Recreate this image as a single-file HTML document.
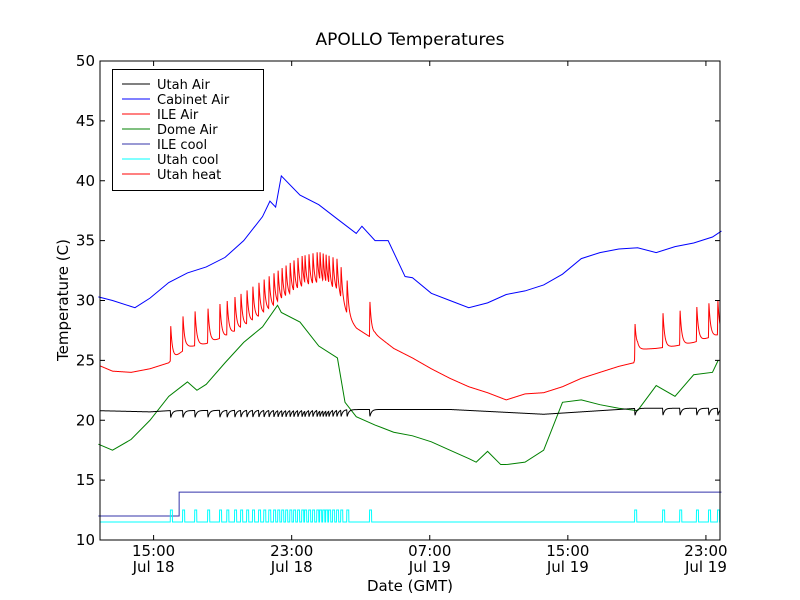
<!DOCTYPE html>
<html><head><meta charset="utf-8"><style>
body{margin:0;background:#fff;}
svg{display:block;font-family:"DejaVu Sans","Liberation Sans",sans-serif;}
</style></head><body>
<svg id="chart" width="800" height="600">
<rect width="800" height="600" fill="#fff"/>
<text x="410" y="45" font-size="17" text-anchor="middle">APOLLO Temperatures</text>
<g id="plot"></g>
<rect x="100" y="61" width="620" height="479" fill="none" stroke="#000" stroke-width="1"/>
<g id="axes"></g>
<text x="410" y="591" font-size="15" text-anchor="middle">Date (GMT)</text>
<text transform="translate(68,300) rotate(-90)" font-size="15" text-anchor="middle">Temperature (C)</text>
<g id="legend"></g>
</svg>
<script>
// ---- data (hours since 00:00 Jul 18 GMT) ----
const yTicks = [10,15,20,25,30,35,40,45,50];
const xTickHours = [15,23,31,39,47];
const xTickLabels = [["15:00","Jul 18"],["23:00","Jul 18"],["07:00","Jul 19"],["15:00","Jul 19"],["23:00","Jul 19"]];
const cabinetHours = [11.8,12.62,13.70,13.92,14.79,15.88,16.96,18.05,19.14,20.22,21.31,21.74,22.07,22.40,23.48,24.57,25.65,26.74,27.07,27.83,28.59,29.57,30.00,31.09,32.17,33.26,34.35,35.43,36.52,37.60,38.69,39.78,40.86,41.95,43.04,44.12,45.21,46.29,47.38,47.9];
const cabinetVals  = [30.3,30.0,29.5,29.4,30.2,31.5,32.3,32.8,33.6,35.0,37.0,38.3,37.8,40.4,38.8,38.0,36.8,35.6,36.2,35.0,35.0,32.0,31.9,30.6,30.0,29.4,29.8,30.5,30.8,31.3,32.2,33.5,34.0,34.3,34.4,34.0,34.5,34.8,35.3,35.8];
const ileAirHours = [11.8,12.62,13.70,14.79,15.88,16.0,16.96,18.05,19.14,20.22,21.31,22.40,23.48,24.57,25.65,26.31,26.74,27.50,27.83,28.91,30.00,31.09,32.17,33.26,34.35,35.43,36.52,37.60,38.69,39.78,40.86,41.95,42.82,43.04,44.12,45.21,46.29,47.38,47.9];
const ileAirVals  = [24.6,24.1,24.0,24.3,24.8,25.0,26.1,26.4,27.0,27.8,28.8,29.8,30.8,31.2,30.6,28.5,27.7,27.0,27.2,26.0,25.2,24.3,23.5,22.8,22.3,21.7,22.2,22.3,22.8,23.5,24.0,24.5,24.8,25.9,26.0,26.2,26.5,27.0,27.2];
const spikeHours = [15.99,16.70,17.40,18.15,18.84,19.26,19.71,20.06,20.41,20.75,21.10,21.40,21.69,21.97,22.21,22.44,22.67,22.91,23.13,23.36,23.60,23.77,24.00,24.23,24.47,24.64,24.82,24.99,25.16,25.39,25.62,25.86,26.21,27.53,42.89,44.51,45.50,46.47,47.17,47.69];
const spikeAmp = 3.0;
const domeHours = [11.8,12.62,13.70,14.79,15.88,16.96,17.51,18.05,19.14,20.22,21.31,22.18,22.40,23.48,24.57,25.65,26.09,26.74,27.83,28.91,30.00,31.09,32.17,33.26,33.69,34.35,35.11,35.43,36.52,37.60,38.69,39.78,40.86,41.95,43.04,44.12,45.21,46.29,47.38,47.71];
const domeVals  = [18.0,17.5,18.4,20.0,22.0,23.2,22.5,23.0,24.8,26.5,27.8,29.6,29.0,28.2,26.2,25.2,21.5,20.3,19.6,19.0,18.7,18.2,17.5,16.8,16.5,17.4,16.3,16.3,16.5,17.5,21.5,21.7,21.3,21.0,20.8,22.9,22.0,23.8,24.0,25.0];
const utahAirHours = [11.8,14.79,15.88,27.53,32.17,37.60,43.04,47.9];
const utahAirVals  = [20.8,20.7,20.8,20.9,20.9,20.5,21.0,21.0];
const utahDip = 0.6;
const ileCoolHours = [11.8,16.48,16.48,47.9];
const ileCoolVals  = [12,12,14,14];
const utahCoolBase = 11.5, utahCoolHigh = 12.5;
const utahHeatVals = [10,10];

// ---- axes ----
const X0=100,X1=720,Y0=540,Y1=61;
const PXH=17.26;
const H0=15-53.6/PXH, H1=H0+620/PXH;
const xs=h=>X0+(h-H0)/(H1-H0)*(X1-X0);
const ys=v=>Y0-(v-10)/40*(Y0-Y1);
const NS="http://www.w3.org/2000/svg";
function mk(tag,attrs,parent){const e=document.createElementNS(NS,tag);for(const k in attrs)e.setAttribute(k,attrs[k]);parent.appendChild(e);return e;}
const plot=document.getElementById('plot'), axes=document.getElementById('axes');
function interp(hs,vs,h){if(h<=hs[0])return vs[0];for(let i=1;i<hs.length;i++){if(h<=hs[i]){const t=(h-hs[i-1])/(hs[i]-hs[i-1]||1);return vs[i-1]+t*(vs[i]-vs[i-1]);}}return vs[vs.length-1];}
function spikeMax(h,tau,rise){let s=0;for(const t of spikeHours){let c=0;if(h>=t-rise&&h<t)c=(h-(t-rise))/rise;else if(h>=t)c=Math.exp(-(h-t)/tau);if(c>s)s=c;}return s;}
function line(pts,color,name){const d=pts.map((p,i)=>(i?'L':'M')+xs(p[0]).toFixed(2)+' '+ys(p[1]).toFixed(2)).join('');const e=mk('path',{d:d,fill:'none',stroke:color,'stroke-width':1},plot);

}
const step=0.01;const grid=[];for(let h=H0;h<=H1;h+=step)grid.push(h);
line(cabinetHours.map((h,i)=>[h,cabinetVals[i]]),'#0000ff','cabinet-air-line');
line(grid.map(h=>[h,interp(ileAirHours,ileAirVals,h)+spikeAmp*spikeMax(h,0.1,0.02)]),'#ff0000','ile-air-line');
line(domeHours.map((h,i)=>[h,domeVals[i]]),'#008000','dome-air-line');
line(grid.map(h=>[h,interp(utahAirHours,utahAirVals,h)-utahDip*spikeMax(h,0.1,0.02)]),'#000000','utah-air-line');
line(ileCoolHours.map((h,i)=>[h,ileCoolVals[i]]),'#3333aa','ile-cool-line');
line(grid.map(h=>{let on=false;for(const t of spikeHours)if(h>=t-0.02&&h<=t+0.1)on=true;return [h,on?utahCoolHigh:utahCoolBase];}),'#00ffff','utah-cool-line');
line([[H0,utahHeatVals[0]],[H1,utahHeatVals[1]]],'#ff0000','utah-heat-line');
// ticks
yTicks.forEach(v=>{const y=ys(v);
mk('line',{x1:X0,x2:X0+5,y1:y,y2:y,stroke:'#000'},axes);mk('line',{x1:X1-5,x2:X1,y1:y,y2:y,stroke:'#000'},axes);
const t=mk('text',{x:95,y:y+5,'font-size':15,'text-anchor':'end'},axes);t.textContent=v;

});
xTickHours.forEach((h,i)=>{const x=xs(h);if(x>X1+1)return;
mk('line',{x1:x,x2:x,y1:Y0,y2:Y0-5,stroke:'#000'},axes);mk('line',{x1:x,x2:x,y1:Y1,y2:Y1+5,stroke:'#000'},axes);
const t=mk('text',{x:x,y:556,'font-size':15,'text-anchor':'middle'},axes);


mk('tspan',{x:x,dy:0},t).textContent=xTickLabels[i][0];mk('tspan',{x:x,dy:16},t).textContent=xTickLabels[i][1];});
// legend
const leg=document.getElementById('legend');
mk('rect',{x:112.5,y:69.5,width:151,height:121,fill:'#fff',stroke:'#000'},leg);
const names=['Utah Air','Cabinet Air','ILE Air','Dome Air','ILE cool','Utah cool','Utah heat'];
const cols=['#000000','#0000ff','#ff0000','#008000','#3333aa','#00ffff','#ff0000'];
names.forEach((n,i)=>{const y=84+i*15;const g=mk('g',{},leg);


mk('line',{x1:122,x2:150,y1:y,y2:y,stroke:cols[i]},g);const t=mk('text',{x:157,y:y+5,'font-size':13},g);t.textContent=n;});
</script>
</body></html>
